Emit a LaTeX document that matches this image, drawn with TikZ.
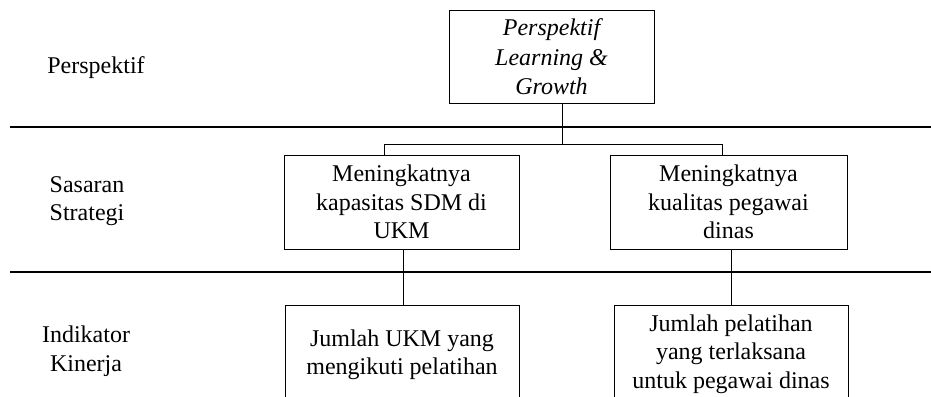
\documentclass[tikz,border=0pt]{standalone}
\usepackage{fontspec}
\setmainfont{Liberation Serif}
\begin{document}
\begin{tikzpicture}[x=1pt,y=-1pt,
  txt/.style={font=\fontsize{24}{28.5}\selectfont, align=center, inner sep=0pt},
  box/.style={draw, line width=1pt, inner sep=0pt, align=center, font=\fontsize{24}{28.5}\selectfont},
  rule/.style={line width=1.2pt},
  conn/.style={line width=0.8pt}]
\useasboundingbox (0,0) rectangle (931,396);
\clip (0,0) rectangle (931,396);
% separating rules
\coordinate (r1a) at (10,127); \coordinate (r1b) at (931,127);
\coordinate (r2a) at (10,272); \coordinate (r2b) at (931,272);
\draw[rule] (r1a) -- (r1b);
\draw[rule] (r2a) -- (r2b);
% row labels
\node[txt] (lp) at (96,68) {Perspektif};
\node[txt, align=left] (ls) at (87,201) {Sasaran\\Strategi};
\node[txt] (li) at (86,351) {Indikator\\Kinerja};
% boxes
\node[box, minimum width=205, minimum height=92, font=\fontsize{24}{29.5}\selectfont\itshape] (top) at (551.5,57) {Perspektif\\Learning \&\\Growth};
\node[box, minimum width=235, minimum height=94] (m1) at (401.5,202) {Meningkatnya\\kapasitas SDM di\\UKM};
\node[box, minimum width=237, minimum height=94] (m2) at (728.5,202) {Meningkatnya\\kualitas pegawai\\dinas};
\node[box, minimum width=234, minimum height=110, anchor=north] (b1) at (402,305) {};
\node[box, minimum width=234, minimum height=110, anchor=north] (b2) at (731,305) {};
\node[txt] (b1t) at (402,355) {Jumlah UKM yang\\mengikuti pelatihan};
\node[txt] (b2t) at (731,354) {Jumlah pelatihan\\yang terlaksana\\untuk pegawai dinas};
% connectors
\coordinate (j1) at (562,144);
\coordinate (k1) at (384,144);
\coordinate (k2) at (722,144);
\coordinate (c1) at (403,0);
\coordinate (c2) at (731,0);
\draw[conn] (top.south -| j1) -- (j1);
\draw[conn] (m1.north -| k1) -- (k1) -- (k2) -- (m2.north -| k2);
\draw[conn] (m1.south -| c1) -- (b1.north -| c1);
\draw[conn] (m2.south -| c2) -- (b2.north -| c2);
\end{tikzpicture}
\end{document}
